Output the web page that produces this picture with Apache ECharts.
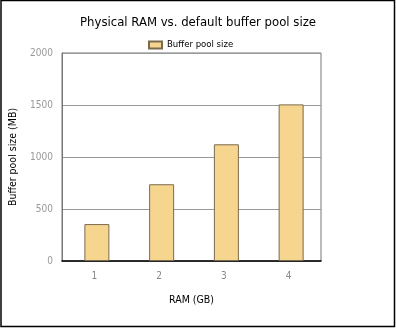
<!DOCTYPE html>
<html>
<head>
<meta charset="utf-8">
<style>
  html, body { margin: 0; padding: 0; background: #fff; }
  #chart { width: 396px; height: 328px; }
</style>
<script src="https://cdn.jsdelivr.net/npm/echarts@6/dist/echarts.min.js"></script>
</head>
<body>
<div id="chart"></div>
<script>
// RAM sizes (GB) and the default buffer pool size chosen for each (MB)
const ramCategories = ['1', '2', '3', '4'];
const bufferPoolMB = [355, 738, 1122, 1506];
const yTicks = [0, 500, 1000, 1500, 2000];

const FONT = '"DejaVu Sans Condensed", "Liberation Sans Narrow", sans-serif';

const chart = echarts.init(document.getElementById('chart'), null, { renderer: 'canvas' });

chart.setOption({
  backgroundColor: '#ffffff',
  animation: false,
  graphic: [{
    type: 'rect',
    shape: { x: 1, y: 0.5, width: 393.5, height: 326 },
    style: { fill: 'none', stroke: '#000', lineWidth: 1.5 },
    silent: true
  }],
  title: {
    text: 'Physical RAM vs. default buffer pool size',
    left: 'center',
    top: 11,
    textStyle: { fontFamily: FONT, fontSize: 13, fontWeight: 'normal', color: '#000' }
  },
  legend: {
    data: ['Buffer pool size'],
    left: 143,
    top: 35,
    icon: 'rect',
    itemWidth: 13,
    itemHeight: 7,
    itemGap: 6,
    textStyle: { fontFamily: FONT, fontSize: 9.5, color: '#000' }
  },
  grid: {
    left: 62, top: 53, width: 259, height: 208,
    show: true, borderColor: '#777', borderWidth: 1
  },
  xAxis: {
    type: 'category',
    data: ramCategories,
    name: 'RAM (GB)',
    nameLocation: 'middle',
    nameGap: 34,
    nameTextStyle: { fontFamily: FONT, fontSize: 10.5, color: '#000' },
    axisLine: { lineStyle: { color: '#000', width: 1.5 } },
    axisTick: { show: false },
    axisLabel: { fontFamily: FONT, fontSize: 10, color: '#888', margin: 10 }
  },
  yAxis: {
    type: 'value',
    min: yTicks[0],
    max: yTicks[yTicks.length - 1],
    interval: yTicks[1] - yTicks[0],
    name: 'Buffer pool size (MB)',
    nameLocation: 'middle',
    nameGap: 42,
    nameTextStyle: { fontFamily: FONT, fontSize: 10.5, color: '#000' },
    axisLine: { show: true, lineStyle: { color: '#777' } },
    axisTick: { show: false },
    splitLine: { lineStyle: { color: '#999' } },
    axisLabel: {
      fontFamily: FONT, fontSize: 10, color: '#999', margin: 9,
      formatter: v => String(v)
    }
  },
  series: [
    {
      // narrow empty slot that nudges the real bar a little right of the tick
      name: 'spacer',
      type: 'bar',
      data: ramCategories.map(() => null),
      barWidth: 5,
      barGap: '0%',
      silent: true
    },
    {
      name: 'Buffer pool size',
      type: 'bar',
      data: bufferPoolMB,
      barWidth: 25,
      barGap: '0%',
      itemStyle: { color: '#F6D58F', borderColor: '#7a6a4e', borderWidth: 1 }
    }
  ]
});
</script>
</body>
</html>
